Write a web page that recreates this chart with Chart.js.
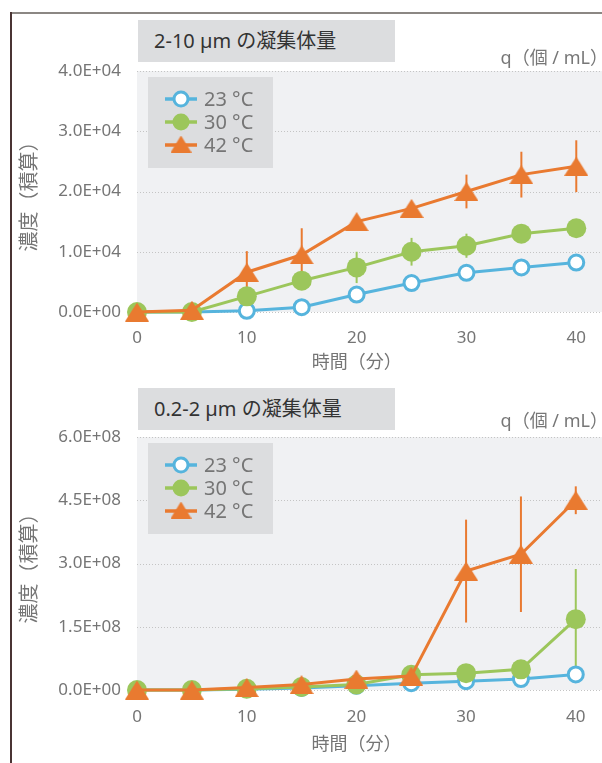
<!DOCTYPE html>
<html>
<head>
<meta charset="utf-8">
<script src="https://cdn.jsdelivr.net/npm/chart.js@4/dist/chart.umd.min.js"></script>
<style>
  body { margin: 0; background: #fff; }
  #page { position: relative; width: 602px; height: 763px; overflow: hidden; font-family: "Noto Sans", "Noto Sans CJK JP", sans-serif; }
  canvas { position: absolute; left: 0; }
  .frameTop { position: absolute; left: 10px; top: 12px; width: 592px; height: 2px; background: #8b8783; }
  .frameLeft { position: absolute; left: 10px; top: 12px; width: 2px; height: 751px; background: #4a3434; }
  .titleBox { position: absolute; left: 138px; width: 241px; height: 42px; line-height: 42px; padding-left: 16px;
              background: #dcdddf; color: #333; font-size: 20px; }
  .unit { position: absolute; right: -6px; font-size: 18px; color: #777; line-height: 24px; }
</style>
</head>
<body>
<div id="page">
  <div class="frameTop"></div>
  <div class="frameLeft"></div>
  <canvas id="chartLarge" width="602" height="375" style="top:0"></canvas>
  <canvas id="chartFine" width="602" height="395" style="top:368px"></canvas>
  <div class="titleBox" style="top:20px">2-10 µm の凝集体量</div>
  <div class="unit" style="top:45px">q（個 / mL）</div>
  <div class="titleBox" style="top:388px">0.2-2 µm の凝集体量</div>
  <div class="unit" style="top:408px">q（個 / mL）</div>
</div>
<script>
// data
const minutes = [0, 5, 10, 15, 20, 25, 30, 35, 40];
const seriesLabels = ['23 °C', '30 °C', '42 °C'];

// 2-10 µm
const large23 = [0, 0, 200, 800, 2900, 4800, 6500, 7400, 8200];
const large30 = [0, 0, 2600, 5200, 7400, 10000, 11000, 13000, 13900];
const large42 = [0, 300, 6600, 9500, 15000, 17200, 20000, 22800, 24200];
const largeErr23 = [0, 0, 0, 0, 0, 0, 0, 0, 0];
const largeErr30 = [0, 0, 0, 0, 2600, 2300, 2000, 0, 0];
const largeErr42 = [0, 0, 3500, 4400, 0, 0, 2800, 3800, 4300];
const largeTicks = [0, 10000, 20000, 30000, 40000];

// 0.2-2 µm
const fine23 = [0, 0, 2e6, 5e6, 1.0e7, 1.6e7, 2.1e7, 2.6e7, 3.7e7];
const fine30 = [0, 0, 3e6, 7e6, 1.3e7, 3.6e7, 4.0e7, 4.9e7, 1.68e8];
const fine42 = [0, 0, 6e6, 1.3e7, 2.6e7, 3.3e7, 2.82e8, 3.22e8, 4.5e8];
const fineErr23 = [0, 0, 0, 0, 0, 0, 0, 0, 0];
const fineErr30 = [0, 0, 0, 0, 0, 0, 0, 0, 1.19e8];
const fineErr42 = [0, 0, 0, 0, 8e6, 0, 1.22e8, 1.37e8, 3.3e7];
const fineTicks = [0, 1.5e8, 3.0e8, 4.5e8, 6.0e8];

const BLUE = '#56b4dd', GREEN = '#9cc65b', ORANGE = '#e97a30';
const GRAY = '#757575';
const FONT = '"Noto Sans", "Noto Sans CJK JP", sans-serif';
Chart.defaults.font.family = FONT;
Chart.defaults.color = GRAY;

function makeTriangle(w, h, color) {
  const c = document.createElement('canvas');
  c.width = w; c.height = h;
  const g = c.getContext('2d');
  g.fillStyle = color;
  g.beginPath();
  g.moveTo(w / 2, 0); g.lineTo(w, h); g.lineTo(0, h);
  g.closePath(); g.fill();
  return c;
}
const triPoint = makeTriangle(24, 19, ORANGE);
const triLegend = makeTriangle(21, 17, ORANGE);

function sci(v) {
  if (v === 0) return '0.0E+00';
  const e = Math.floor(Math.log10(Math.abs(v)) + 1e-9);
  const m = v / Math.pow(10, e);
  return m.toFixed(1) + 'E+' + String(e).padStart(2, '0');
}

function points(vals) {
  return minutes.map((m, i) => ({ x: m, y: vals[i] }));
}

// grey plot background + dotted grid lines, reaching the right edge
const plotBg = {
  id: 'plotBg',
  beforeDraw(chart) {
    const { ctx, chartArea: a, scales: { y } } = chart;
    ctx.save();
    ctx.fillStyle = '#f0f1f3';
    ctx.fillRect(a.left, a.top, chart.width - a.left, a.bottom - a.top);
    ctx.strokeStyle = '#c4c4c4';
    ctx.lineWidth = 1;
    ctx.setLineDash([1, 2]);
    y.ticks.forEach(t => {
      const py = Math.round(y.getPixelForValue(t.value)) + 0.5;
      ctx.beginPath();
      ctx.moveTo(a.left, py);
      ctx.lineTo(chart.width, py);
      ctx.stroke();
    });
    ctx.restore();
  }
};

const errorBars = {
  id: 'errorBars',
  beforeDatasetsDraw(chart) {
    const { ctx, scales: { x, y } } = chart;
    ctx.save();
    ctx.lineWidth = 2;
    chart.data.datasets.forEach(ds => {
      if (!ds.errors) return;
      ctx.strokeStyle = ds.borderColor;
      ds.data.forEach((p, i) => {
        const e = ds.errors[i];
        if (!e) return;
        const px = x.getPixelForValue(p.x);
        ctx.beginPath();
        ctx.moveTo(px, y.getPixelForValue(p.y + e));
        ctx.lineTo(px, y.getPixelForValue(p.y - e));
        ctx.stroke();
      });
    });
    ctx.restore();
  }
};

const boxLegend = {
  id: 'boxLegend',
  afterDraw(chart) {
    const { ctx, chartArea: a } = chart;
    const bx = a.left + 11, by = a.top + 6;
    ctx.save();
    ctx.fillStyle = '#dcdddf';
    ctx.fillRect(bx, by, 125, 91);
    chart.data.datasets.forEach((ds, i) => {
      const cy = by + 22 + i * 23;
      const mx = bx + 33;
      ctx.strokeStyle = ds.borderColor;
      ctx.lineWidth = 3.5;
      ctx.beginPath();
      ctx.moveTo(bx + 17, cy); ctx.lineTo(bx + 49, cy);
      ctx.stroke();
      if (ds.legendShape === 'ring') {
        ctx.fillStyle = '#fff';
        ctx.lineWidth = 3;
        ctx.beginPath(); ctx.arc(mx, cy, 7, 0, Math.PI * 2); ctx.fill(); ctx.stroke();
      } else if (ds.legendShape === 'dot') {
        ctx.fillStyle = ds.borderColor;
        ctx.beginPath(); ctx.arc(mx, cy, 8.5, 0, Math.PI * 2); ctx.fill();
      } else {
        ctx.drawImage(triLegend, mx - triLegend.width / 2, cy - triLegend.height / 2 - 1);
      }
      ctx.fillStyle = GRAY;
      ctx.font = '20px ' + FONT;
      ctx.textBaseline = 'middle';
      ctx.fillText(ds.label, bx + 56, cy + 1);
    });
    ctx.restore();
  }
};

function makeChart(id, s23, s30, s42, e23, e30, e42, ticks, cfg) {
  const base = { fill: false, tension: 0, borderWidth: 3, clip: false };
  return new Chart(document.getElementById(id), {
    type: 'line',
    data: {
      datasets: [
        Object.assign({}, base, {
          label: seriesLabels[0], data: points(s23), errors: e23, legendShape: 'ring', order: 2,
          borderColor: BLUE, pointBackgroundColor: '#fff', pointBorderColor: BLUE,
          pointRadius: 7.5, pointBorderWidth: 3
        }),
        Object.assign({}, base, {
          label: seriesLabels[1], data: points(s30), errors: e30, legendShape: 'dot', order: 1,
          borderColor: GREEN, pointBackgroundColor: GREEN, pointBorderColor: GREEN,
          pointRadius: 10, pointBorderWidth: 0
        }),
        Object.assign({}, base, {
          label: seriesLabels[2], data: points(s42), errors: e42, legendShape: 'tri', order: 0,
          borderColor: ORANGE, pointBackgroundColor: ORANGE, pointBorderColor: ORANGE,
          pointStyle: triPoint, pointRadius: 10
        })
      ]
    },
    options: {
      responsive: false,
      animation: false,
      events: [],
      layout: { padding: { top: cfg.top, right: 24, left: 0, bottom: 0 } },
      plugins: { legend: { display: false }, tooltip: { enabled: false } },
      scales: {
        x: {
          type: 'linear', min: 0, max: 40,
          ticks: { stepSize: 10, padding: cfg.xTickPad, color: GRAY, font: { size: 17 } },
          grid: { display: false, drawTicks: false },
          border: { display: false },
          title: { display: true, text: '時間（分）', color: GRAY, font: { size: 18 }, padding: { top: 0, bottom: cfg.xTitlePad } },
          afterFit: s => { s.height = cfg.xHeight; }
        },
        y: {
          min: ticks[0], max: ticks[ticks.length - 1],
          afterBuildTicks: s => { s.ticks = ticks.map(v => ({ value: v })); },
          ticks: { padding: 16, color: GRAY, font: { size: 17 }, callback: v => sci(v) },
          grid: { display: false, drawTicks: false },
          border: { display: false },
          title: { display: true, text: '濃度（積算）', color: GRAY, font: { size: 20 }, padding: { top: 18, bottom: 0 } },
          afterFit: s => { s.width = 137; }
        }
      }
    },
    plugins: [plotBg, errorBars, boxLegend]
  });
}

makeChart('chartLarge', large23, large30, large42, largeErr23, largeErr30, largeErr42, largeTicks,
  { top: 71, xHeight: 63, xTickPad: 16, xTitlePad: 1 });
makeChart('chartFine', fine23, fine30, fine42, fineErr23, fineErr30, fineErr42, fineTicks,
  { top: 69, xHeight: 73, xTickPad: 16.5, xTitlePad: 7 });
</script>
</body>
</html>
